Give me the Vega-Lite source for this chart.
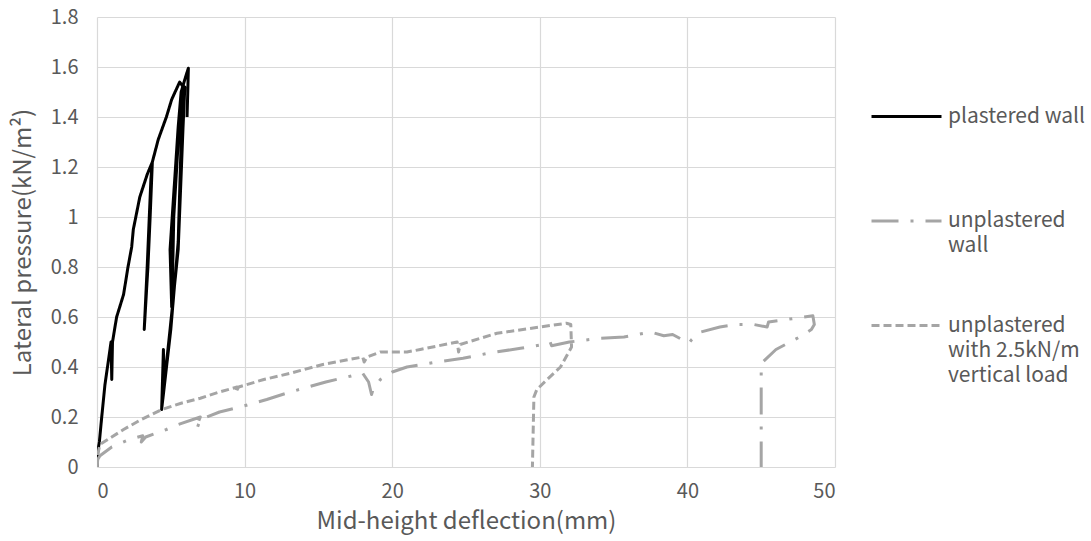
{
  "$schema": "https://vega.github.io/schema/vega-lite/v6.json",
  "width": 738,
  "height": 450,
  "autosize": {"type": "none"},
  "padding": {"left": 97, "top": 17, "right": 256, "bottom": 74},
  "background": "white",
  "config": {
    "view": {"stroke": null},
    "font": "Noto Sans CJK SC",
    "style": {"guide-label": {"lineHeight": 25}},
    "axis": {
      "labelColor": "#595959",
      "labelFontSize": 20,
      "labelFont": "Noto Sans CJK SC",
      "titleColor": "#595959",
      "titleFontSize": 24,
      "titleFont": "Noto Sans CJK SC",
      "titleFontWeight": "normal",
      "gridColor": "#D9D9D9",
      "gridWidth": 1.2,
      "domain": false,
      "ticks": false
    }
  },
  "data": {
    "values": [
      {"s": "plastered wall", "o": 1, "x": 0, "y": 0},
      {"s": "plastered wall", "o": 2, "x": 0.05, "y": 0.06},
      {"s": "plastered wall", "o": 3, "x": 0.16, "y": 0.1},
      {"s": "plastered wall", "o": 4, "x": 0.32, "y": 0.2},
      {"s": "plastered wall", "o": 5, "x": 0.54, "y": 0.33},
      {"s": "plastered wall", "o": 6, "x": 0.88, "y": 0.47},
      {"s": "plastered wall", "o": 7, "x": 0.95, "y": 0.5},
      {"s": "plastered wall", "o": 8, "x": 1.0, "y": 0.35},
      {"s": "plastered wall", "o": 9, "x": 1.05, "y": 0.5},
      {"s": "plastered wall", "o": 10, "x": 1.33, "y": 0.6},
      {"s": "plastered wall", "o": 11, "x": 1.8, "y": 0.69},
      {"s": "plastered wall", "o": 12, "x": 2.1, "y": 0.8},
      {"s": "plastered wall", "o": 13, "x": 2.35, "y": 0.88},
      {"s": "plastered wall", "o": 14, "x": 2.46, "y": 0.95},
      {"s": "plastered wall", "o": 15, "x": 2.9, "y": 1.08},
      {"s": "plastered wall", "o": 16, "x": 3.4, "y": 1.17},
      {"s": "plastered wall", "o": 17, "x": 3.75, "y": 1.22},
      {"s": "plastered wall", "o": 18, "x": 3.6, "y": 1.0},
      {"s": "plastered wall", "o": 19, "x": 3.45, "y": 0.8},
      {"s": "plastered wall", "o": 20, "x": 3.2, "y": 0.55},
      {"s": "plastered wall", "o": 21, "x": 3.4, "y": 0.8},
      {"s": "plastered wall", "o": 22, "x": 3.65, "y": 1.15},
      {"s": "plastered wall", "o": 23, "x": 3.75, "y": 1.22},
      {"s": "plastered wall", "o": 24, "x": 4.15, "y": 1.31},
      {"s": "plastered wall", "o": 25, "x": 4.7, "y": 1.4},
      {"s": "plastered wall", "o": 26, "x": 5.06, "y": 1.47},
      {"s": "plastered wall", "o": 27, "x": 5.6, "y": 1.54},
      {"s": "plastered wall", "o": 28, "x": 5.85, "y": 1.52},
      {"s": "plastered wall", "o": 29, "x": 5.7, "y": 1.3},
      {"s": "plastered wall", "o": 30, "x": 5.5, "y": 0.9},
      {"s": "plastered wall", "o": 31, "x": 5.0, "y": 0.55},
      {"s": "plastered wall", "o": 32, "x": 4.38, "y": 0.23},
      {"s": "plastered wall", "o": 33, "x": 4.5, "y": 0.47},
      {"s": "plastered wall", "o": 34, "x": 4.55, "y": 0.33},
      {"s": "plastered wall", "o": 35, "x": 4.95, "y": 0.55},
      {"s": "plastered wall", "o": 36, "x": 5.5, "y": 0.87},
      {"s": "plastered wall", "o": 37, "x": 5.83, "y": 1.36},
      {"s": "plastered wall", "o": 38, "x": 5.95, "y": 1.52},
      {"s": "plastered wall", "o": 39, "x": 5.5, "y": 1.3},
      {"s": "plastered wall", "o": 40, "x": 5.2, "y": 1.0},
      {"s": "plastered wall", "o": 41, "x": 5.15, "y": 0.85},
      {"s": "plastered wall", "o": 42, "x": 5.06, "y": 0.64},
      {"s": "plastered wall", "o": 43, "x": 4.95, "y": 0.87},
      {"s": "plastered wall", "o": 44, "x": 5.5, "y": 1.36},
      {"s": "plastered wall", "o": 45, "x": 5.7, "y": 1.5},
      {"s": "plastered wall", "o": 46, "x": 6.0, "y": 1.56},
      {"s": "plastered wall", "o": 47, "x": 6.19, "y": 1.595},
      {"s": "plastered wall", "o": 48, "x": 6.15, "y": 1.5},
      {"s": "plastered wall", "o": 49, "x": 6.1, "y": 1.4},

      {"s": "unplastered wall", "o": 1, "x": 0, "y": 0},
      {"s": "unplastered wall", "o": 2, "x": 0.05, "y": 0.03},
      {"s": "unplastered wall", "o": 3, "x": 0.2, "y": 0.045},
      {"s": "unplastered wall", "o": 4, "x": 1.0, "y": 0.08},
      {"s": "unplastered wall", "o": 5, "x": 2.2, "y": 0.11},
      {"s": "unplastered wall", "o": 6, "x": 3.1, "y": 0.125},
      {"s": "unplastered wall", "o": 7, "x": 3.0, "y": 0.1},
      {"s": "unplastered wall", "o": 8, "x": 3.3, "y": 0.12},
      {"s": "unplastered wall", "o": 9, "x": 4.7, "y": 0.15},
      {"s": "unplastered wall", "o": 10, "x": 5.5, "y": 0.17},
      {"s": "unplastered wall", "o": 11, "x": 7.0, "y": 0.2},
      {"s": "unplastered wall", "o": 12, "x": 6.8, "y": 0.17},
      {"s": "unplastered wall", "o": 13, "x": 6.75, "y": 0.15},
      {"s": "unplastered wall", "o": 14, "x": 7.0, "y": 0.19},
      {"s": "unplastered wall", "o": 15, "x": 8.3, "y": 0.22},
      {"s": "unplastered wall", "o": 16, "x": 9.7, "y": 0.24},
      {"s": "unplastered wall", "o": 17, "x": 11.5, "y": 0.27},
      {"s": "unplastered wall", "o": 18, "x": 13.1, "y": 0.3},
      {"s": "unplastered wall", "o": 19, "x": 15.5, "y": 0.34},
      {"s": "unplastered wall", "o": 20, "x": 18.0, "y": 0.375},
      {"s": "unplastered wall", "o": 21, "x": 18.4, "y": 0.34},
      {"s": "unplastered wall", "o": 22, "x": 18.6, "y": 0.29},
      {"s": "unplastered wall", "o": 23, "x": 18.7, "y": 0.31},
      {"s": "unplastered wall", "o": 24, "x": 19.2, "y": 0.35},
      {"s": "unplastered wall", "o": 25, "x": 20.0, "y": 0.38},
      {"s": "unplastered wall", "o": 26, "x": 21.0, "y": 0.4},
      {"s": "unplastered wall", "o": 27, "x": 23.0, "y": 0.42},
      {"s": "unplastered wall", "o": 28, "x": 24.8, "y": 0.435},
      {"s": "unplastered wall", "o": 29, "x": 26.5, "y": 0.455},
      {"s": "unplastered wall", "o": 30, "x": 28.7, "y": 0.475},
      {"s": "unplastered wall", "o": 31, "x": 30.2, "y": 0.49},
      {"s": "unplastered wall", "o": 32, "x": 30.7, "y": 0.5},
      {"s": "unplastered wall", "o": 33, "x": 30.8, "y": 0.485},
      {"s": "unplastered wall", "o": 34, "x": 31.2, "y": 0.49},
      {"s": "unplastered wall", "o": 35, "x": 32.0, "y": 0.5},
      {"s": "unplastered wall", "o": 36, "x": 34.1, "y": 0.515},
      {"s": "unplastered wall", "o": 37, "x": 35.7, "y": 0.52},
      {"s": "unplastered wall", "o": 38, "x": 37.5, "y": 0.54},
      {"s": "unplastered wall", "o": 39, "x": 38.4, "y": 0.525},
      {"s": "unplastered wall", "o": 40, "x": 39.0, "y": 0.53},
      {"s": "unplastered wall", "o": 41, "x": 40.1, "y": 0.495},
      {"s": "unplastered wall", "o": 42, "x": 40.3, "y": 0.51},
      {"s": "unplastered wall", "o": 43, "x": 40.9, "y": 0.54},
      {"s": "unplastered wall", "o": 44, "x": 42.2, "y": 0.56},
      {"s": "unplastered wall", "o": 45, "x": 43.3, "y": 0.57},
      {"s": "unplastered wall", "o": 46, "x": 44.5, "y": 0.57},
      {"s": "unplastered wall", "o": 47, "x": 45.4, "y": 0.56},
      {"s": "unplastered wall", "o": 48, "x": 45.5, "y": 0.58},
      {"s": "unplastered wall", "o": 49, "x": 46.7, "y": 0.59},
      {"s": "unplastered wall", "o": 50, "x": 48.5, "y": 0.605},
      {"s": "unplastered wall", "o": 51, "x": 48.6, "y": 0.57},
      {"s": "unplastered wall", "o": 52, "x": 48.4, "y": 0.55},
      {"s": "unplastered wall", "o": 53, "x": 47.6, "y": 0.52},
      {"s": "unplastered wall", "o": 54, "x": 46.0, "y": 0.47},
      {"s": "unplastered wall", "o": 55, "x": 45.1, "y": 0.42},
      {"s": "unplastered wall", "o": 56, "x": 45.0, "y": 0.39},
      {"s": "unplastered wall", "o": 57, "x": 45.0, "y": 0.0},

      {"s": "unplastered with 2.5kN/m vertical load", "o": 1, "x": 0, "y": 0},
      {"s": "unplastered with 2.5kN/m vertical load", "o": 2, "x": 0.05, "y": 0.05},
      {"s": "unplastered with 2.5kN/m vertical load", "o": 3, "x": 0.2, "y": 0.09},
      {"s": "unplastered with 2.5kN/m vertical load", "o": 4, "x": 1.0, "y": 0.12},
      {"s": "unplastered with 2.5kN/m vertical load", "o": 5, "x": 1.8, "y": 0.15},
      {"s": "unplastered with 2.5kN/m vertical load", "o": 6, "x": 3.0, "y": 0.19},
      {"s": "unplastered with 2.5kN/m vertical load", "o": 7, "x": 4.4, "y": 0.23},
      {"s": "unplastered with 2.5kN/m vertical load", "o": 8, "x": 5.7, "y": 0.255},
      {"s": "unplastered with 2.5kN/m vertical load", "o": 9, "x": 7.0, "y": 0.275},
      {"s": "unplastered with 2.5kN/m vertical load", "o": 10, "x": 8.3, "y": 0.3},
      {"s": "unplastered with 2.5kN/m vertical load", "o": 11, "x": 9.5, "y": 0.32},
      {"s": "unplastered with 2.5kN/m vertical load", "o": 12, "x": 9.4, "y": 0.3},
      {"s": "unplastered with 2.5kN/m vertical load", "o": 13, "x": 9.6, "y": 0.32},
      {"s": "unplastered with 2.5kN/m vertical load", "o": 14, "x": 11.3, "y": 0.35},
      {"s": "unplastered with 2.5kN/m vertical load", "o": 15, "x": 13.1, "y": 0.375},
      {"s": "unplastered with 2.5kN/m vertical load", "o": 16, "x": 15.3, "y": 0.41},
      {"s": "unplastered with 2.5kN/m vertical load", "o": 17, "x": 18.0, "y": 0.44},
      {"s": "unplastered with 2.5kN/m vertical load", "o": 18, "x": 18.1, "y": 0.42},
      {"s": "unplastered with 2.5kN/m vertical load", "o": 19, "x": 18.3, "y": 0.44},
      {"s": "unplastered with 2.5kN/m vertical load", "o": 20, "x": 19.2, "y": 0.46},
      {"s": "unplastered with 2.5kN/m vertical load", "o": 21, "x": 21.0, "y": 0.46},
      {"s": "unplastered with 2.5kN/m vertical load", "o": 22, "x": 21.9, "y": 0.47},
      {"s": "unplastered with 2.5kN/m vertical load", "o": 23, "x": 24.4, "y": 0.5},
      {"s": "unplastered with 2.5kN/m vertical load", "o": 24, "x": 24.5, "y": 0.46},
      {"s": "unplastered with 2.5kN/m vertical load", "o": 25, "x": 24.6, "y": 0.49},
      {"s": "unplastered with 2.5kN/m vertical load", "o": 26, "x": 27.1, "y": 0.535},
      {"s": "unplastered with 2.5kN/m vertical load", "o": 27, "x": 30.0, "y": 0.56},
      {"s": "unplastered with 2.5kN/m vertical load", "o": 28, "x": 31.8, "y": 0.575},
      {"s": "unplastered with 2.5kN/m vertical load", "o": 29, "x": 32.1, "y": 0.57},
      {"s": "unplastered with 2.5kN/m vertical load", "o": 30, "x": 32.15, "y": 0.48},
      {"s": "unplastered with 2.5kN/m vertical load", "o": 31, "x": 31.4, "y": 0.4},
      {"s": "unplastered with 2.5kN/m vertical load", "o": 32, "x": 30.5, "y": 0.35},
      {"s": "unplastered with 2.5kN/m vertical load", "o": 33, "x": 29.8, "y": 0.31},
      {"s": "unplastered with 2.5kN/m vertical load", "o": 34, "x": 29.6, "y": 0.28},
      {"s": "unplastered with 2.5kN/m vertical load", "o": 35, "x": 29.5, "y": 0.0}
    ]
  },
  "mark": {"type": "line", "strokeWidth": 3, "strokeJoin": "round", "clip": true},
  "encoding": {
    "x": {
      "field": "x",
      "type": "quantitative",
      "scale": {"domain": [0, 50], "nice": false, "zero": false},
      "axis": {
        "title": "Mid-height deflection(mm)",
        "values": [0, 10, 20, 30, 40, 50],
        "grid": true,
        "labelPadding": 14,
        "titlePadding": 8
      }
    },
    "y": {
      "field": "y",
      "type": "quantitative",
      "scale": {"domain": [0, 1.8], "nice": false},
      "axis": {
        "title": "Lateral pressure(kN/m²)",
        "values": [0, 0.2, 0.4, 0.6, 0.8, 1, 1.2, 1.4, 1.6, 1.8],
        "format": "~g",
        "grid": true,
        "labelPadding": 19,
        "titlePadding": 15
      }
    },
    "color": {
      "field": "s",
      "type": "nominal",
      "scale": {
        "domain": ["plastered wall", "unplastered wall", "unplastered with 2.5kN/m vertical load"],
        "range": ["#000000", "#A5A5A5", "#A5A5A5"]
      },
      "legend": {
        "title": null,
        "orient": "none",
        "legendX": 773,
        "legendY": 63,
        "padding": 0,
        "symbolType": "stroke",
        "symbolSize": 4900,
        "symbolStrokeWidth": 3,
        "labelFontSize": 21,
        "labelColor": "#595959",
        "labelFont": "Noto Sans CJK SC",
        "labelOffset": 5,
        "labelBaseline": "middle",
        "labelLimit": 300,
        "rowPadding": 7.5,
        "labelExpr": "datum.value == 'plastered wall' ? ['plastered wall', '', ''] : datum.value == 'unplastered wall' ? ['unplastered', 'wall', ''] : ['unplastered', 'with 2.5kN/m', 'vertical load']"
      }
    },
    "strokeDash": {
      "field": "s",
      "type": "nominal",
      "scale": {
        "domain": ["plastered wall", "unplastered wall", "unplastered with 2.5kN/m vertical load"],
        "range": [[1, 0], [27, 12, 3, 12], [8, 4]]
      },
      "legend": {
        "title": null,
        "orient": "none",
        "legendX": 773,
        "legendY": 63,
        "padding": 0,
        "symbolType": "stroke",
        "symbolSize": 4900,
        "symbolStrokeWidth": 3,
        "labelFontSize": 21,
        "labelColor": "#595959",
        "labelFont": "Noto Sans CJK SC",
        "labelOffset": 5,
        "labelBaseline": "middle",
        "labelLimit": 300,
        "rowPadding": 7.5,
        "labelExpr": "datum.value == 'plastered wall' ? ['plastered wall', '', ''] : datum.value == 'unplastered wall' ? ['unplastered', 'wall', ''] : ['unplastered', 'with 2.5kN/m', 'vertical load']"
      }
    },
    "order": {"field": "o", "type": "quantitative"}
  }
}
